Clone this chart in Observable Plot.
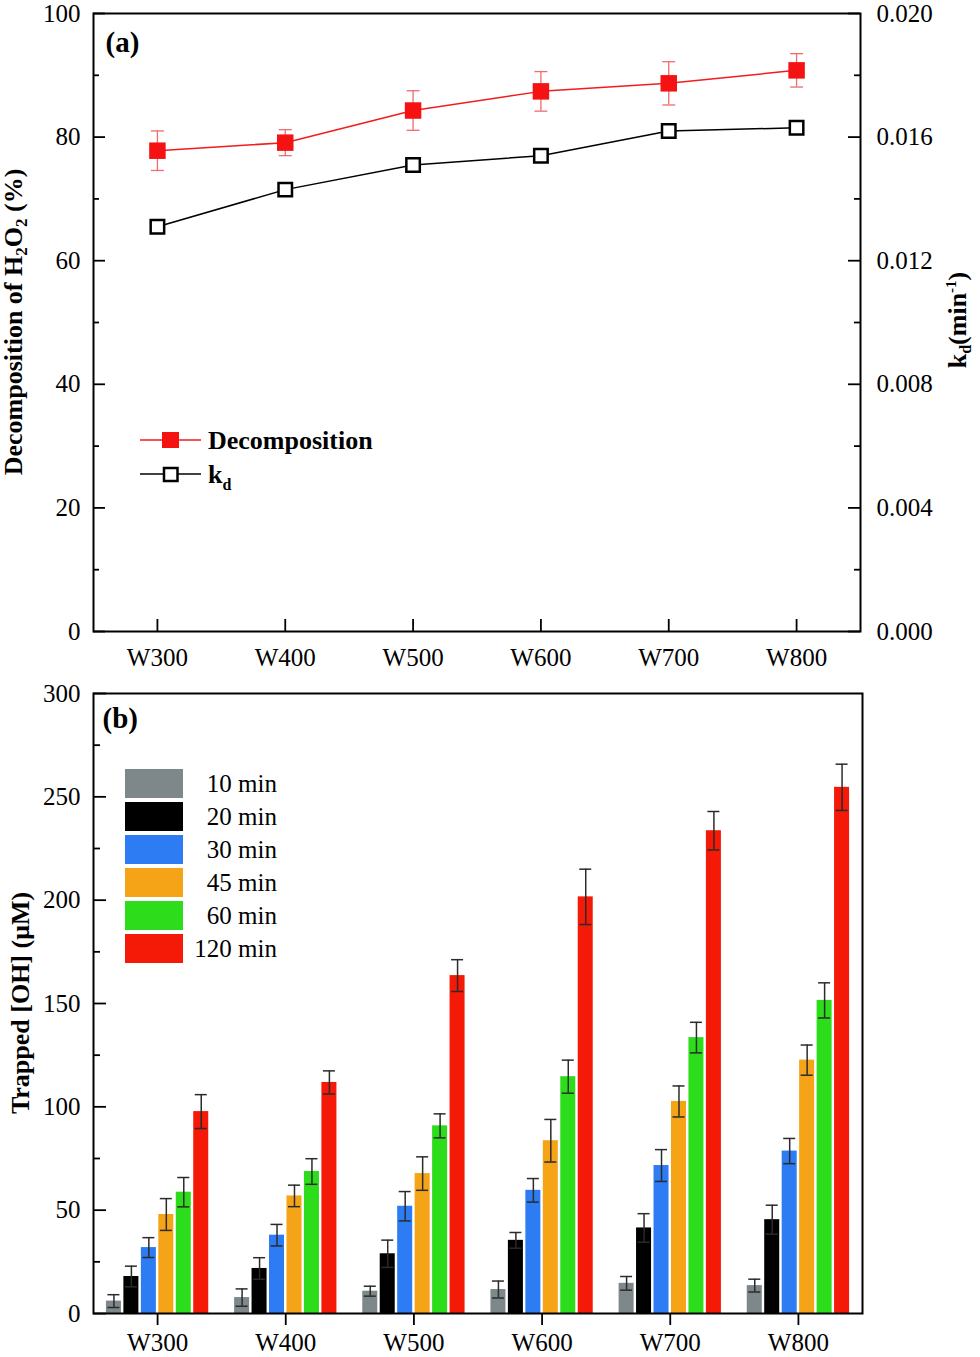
<!DOCTYPE html>
<html>
<head>
<meta charset="utf-8">
<script src="https://cdn.jsdelivr.net/npm/d3@7"></script>
<script src="https://cdn.jsdelivr.net/npm/@observablehq/plot@0.6"></script>
<style>
  body { margin: 0; background: #fff; }
  #wrap { position: relative; width: 980px; height: 1357px; font-family: "Liberation Serif", "Times New Roman", serif; }
  #wrap svg { position: absolute; left: 0; }
  .leg { position: absolute; font-size: 25px; color: #000; }
  .sw { position: absolute; width: 58px; height: 29px; }
  .lt { position: absolute; width: 110px; text-align: right; line-height: 29px; }
</style>
</head>
<body>
<div id="wrap"></div>
<script>
// ---------- data ----------
const samples = ["W300", "W400", "W500", "W600", "W700", "W800"];
// panel (a)
const decomposition    = [77.8, 79.1, 84.3, 87.4, 88.7, 90.8];
const decompositionErr = [3.2, 2.1, 3.2, 3.2, 3.5, 2.7];
const kd               = [0.0131, 0.0143, 0.0151, 0.0154, 0.0162, 0.0163];
const leftTicksA  = [0, 20, 40, 60, 80, 100];
const minorTicksA = [10, 30, 50, 70, 90];
const rightTicksA = [0.000, 0.004, 0.008, 0.012, 0.016, 0.020];
// panel (b)
const times      = ["10 min", "20 min", "30 min", "45 min", "60 min", "120 min"];
const timeColors = ["#7e888a", "#000000", "#2e7cf3", "#f5a418", "#2ddd1c", "#f51a08"];
const oh10  = [6.0, 7.7, 10.8, 11.6, 14.6, 13.5];
const oh20  = [17.9, 21.8, 28.9, 35.4, 41.4, 45.4];
const oh30  = [31.9, 37.9, 51.9, 59.6, 71.6, 78.6];
const oh45  = [47.9, 56.9, 67.7, 83.6, 102.6, 122.6];
const oh60  = [58.7, 68.7, 90.8, 114.6, 133.5, 151.5];
const oh120 = [97.7, 111.8, 163.5, 201.6, 233.6, 254.6];
const err10  = [3.1, 4.2, 2.4, 4.1, 3.3, 3.1];
const err20  = [5.0, 5.2, 6.6, 3.8, 6.9, 7.0];
const err30  = [4.8, 5.2, 7.1, 5.7, 7.7, 6.1];
const err45  = [7.7, 5.2, 8.1, 10.3, 7.5, 7.3];
const err60  = [7.1, 6.2, 5.8, 8.0, 7.4, 8.5];
const err120 = [8.2, 5.6, 7.7, 13.4, 9.3, 11.2];
const ticksB      = [0, 50, 100, 150, 200, 250, 300];
const minorTicksB = [25, 75, 125, 175, 225, 275];

// ---------- derived tables ----------
const kdFactor = leftTicksA[leftTicksA.length - 1] / rightTicksA[rightTicksA.length - 1];
const dataA = samples.map((s, i) => ({sample: s, dec: decomposition[i], err: decompositionErr[i], kd: kd[i]}));
const ohValues = [oh10, oh20, oh30, oh45, oh60, oh120];
const ohErrors = [err10, err20, err30, err45, err60, err120];
const dataB = samples.flatMap((s, i) => times.map((t, j) => ({sample: s, time: t, value: ohValues[j][i], err: ohErrors[j][i]})));

const FONT = '"Liberation Serif", "Times New Roman", serif';
const W = 980;
const red = "#f41212", redLine = "#f21c1c", redErr = "#f06a6e";
const capSymbol = {draw(ctx, size) { const w = Math.sqrt(size) / 2; ctx.moveTo(-w, 0); ctx.lineTo(w, 0); }};

const wrap = document.getElementById("wrap");

// ---------- panel (a) ----------
const mA = {top: 13, right: 120, bottom: 49, left: 93};
const HA = 680;
const innerWA = W - mA.left - mA.right;
const plotA = Plot.plot({
  width: W, height: HA,
  marginTop: mA.top, marginRight: mA.right, marginBottom: mA.bottom, marginLeft: mA.left,
  style: {fontFamily: FONT, fontSize: "25px", color: "#000", background: "transparent", overflow: "visible"},
  x: {type: "point", domain: samples, padding: 0.5, round: false, label: null},
  y: {domain: [0, 100], label: null},
  marks: [
    Plot.axisX({tickSize: 0, tickPadding: 17, label: null}),
    Plot.tickX(samples, {x: d => d, insetTop: HA - mA.top - mA.bottom - 12, stroke: "#000", strokeWidth: 1.8}),
    Plot.axisY({anchor: "left", ticks: leftTicksA, tickSize: 0, tickPadding: 13, label: null}),
    Plot.axisY({anchor: "right", ticks: rightTicksA.map(t => t * kdFactor), tickFormat: d => (d / kdFactor).toFixed(3),
                tickSize: 0, tickPadding: 16, label: null}),
    Plot.tickY(leftTicksA, {y: d => d, insetRight: innerWA - 12, stroke: "#000", strokeWidth: 1.8}),
    Plot.tickY(minorTicksA, {y: d => d, insetRight: innerWA - 6, stroke: "#000", strokeWidth: 1.8}),
    Plot.tickY(leftTicksA, {y: d => d, insetLeft: innerWA - 12, stroke: "#000", strokeWidth: 1.8}),
    Plot.tickY(minorTicksA, {y: d => d, insetLeft: innerWA - 6, stroke: "#000", strokeWidth: 1.8}),
    Plot.frame({stroke: "#000", strokeWidth: 2}),
    Plot.line(dataA, {x: "sample", y: d => d.kd * kdFactor, stroke: "#000", strokeWidth: 1.5}),
    Plot.line(dataA, {x: "sample", y: "dec", stroke: redLine, strokeWidth: 1.5}),
    Plot.ruleX(dataA, {x: "sample", y1: d => d.dec - d.err, y2: d => d.dec + d.err, stroke: redErr, strokeWidth: 1.3}),
    Plot.dot(dataA, {x: "sample", y: d => d.dec + d.err, symbol: capSymbol, r: 7.3, fill: "none", stroke: redErr, strokeWidth: 1.3}),
    Plot.dot(dataA, {x: "sample", y: d => d.dec - d.err, symbol: capSymbol, r: 7.3, fill: "none", stroke: redErr, strokeWidth: 1.3}),
    Plot.dot(dataA, {x: "sample", y: "dec", symbol: "square", r: 9.3, fill: red, stroke: "none"}),
    Plot.dot(dataA, {x: "sample", y: d => d.kd * kdFactor, symbol: "square", r: 7.6, fill: "#fff", stroke: "#000", strokeWidth: 2.5}),
    Plot.text(["(a)"], {frameAnchor: "top-left", dx: 12, dy: 29, text: d => d, fontWeight: "bold", fontSize: 29, textAnchor: "start", lineAnchor: "middle"})
  ]
});
plotA.style.top = "0px";
wrap.appendChild(plotA);
{
  const s = d3.select(plotA);
  const t1 = s.append("text").attr("transform", "translate(22,322) rotate(-90)").attr("text-anchor", "middle")
    .attr("font-weight", "bold").attr("font-size", 26).attr("fill", "#000").style("white-space", "pre");
  t1.append("tspan").text("Decomposition of H");
  t1.append("tspan").attr("font-size", 17).attr("dy", 5).text("2");
  t1.append("tspan").attr("dy", -5).text("O");
  t1.append("tspan").attr("font-size", 17).attr("dy", 5).text("2");
  t1.append("tspan").attr("dy", -5).text(" (%)");
  const t2 = s.append("text").attr("transform", "translate(966,320) rotate(-90)").attr("text-anchor", "middle")
    .attr("font-weight", "bold").attr("font-size", 26).attr("fill", "#000");
  t2.append("tspan").text("k");
  t2.append("tspan").attr("font-size", 16).attr("dy", 5).text("d");
  t2.append("tspan").attr("dy", -5).text("(min");
  t2.append("tspan").attr("font-size", 15).attr("dy", -10).text("-1");
  t2.append("tspan").attr("dy", 10).text(")");
  // legend
  const g = s.append("g").attr("text-anchor", "start");
  g.append("line").attr("x1", 140).attr("x2", 201).attr("y1", 440).attr("y2", 440).attr("stroke", redLine).attr("stroke-width", 1.5);
  g.append("rect").attr("x", 162).attr("y", 432).attr("width", 17).attr("height", 16).attr("fill", red);
  g.append("text").attr("x", 208).attr("y", 449).attr("text-anchor", "start").attr("font-weight", "bold").attr("font-size", 26).attr("fill", "#000").text("Decomposition");
  g.append("line").attr("x1", 140).attr("x2", 201).attr("y1", 474).attr("y2", 474).attr("stroke", "#000").attr("stroke-width", 1.5);
  g.append("rect").attr("x", 164).attr("y", 468).attr("width", 13.5).attr("height", 13).attr("fill", "#fff").attr("stroke", "#000").attr("stroke-width", 2.5);
  const k = g.append("text").attr("x", 208).attr("y", 483).attr("text-anchor", "start").attr("font-weight", "bold").attr("font-size", 26).attr("fill", "#000");
  k.append("tspan").text("k");
  k.append("tspan").attr("font-size", 16).attr("dy", 7).text("d");
}

// ---------- panel (b) ----------
const topB = 680;
const HB = 677;
const mB = {top: 13, right: 118, bottom: 44, left: 93};
const innerWB = W - mB.left - mB.right;
const plotB = Plot.plot({
  width: W, height: HB,
  marginTop: mB.top, marginRight: mB.right, marginBottom: mB.bottom, marginLeft: mB.left,
  style: {fontFamily: FONT, fontSize: "25px", color: "#000", background: "transparent", overflow: "visible"},
  fx: {domain: samples, padding: 0, round: false, label: null},
  x: {domain: times, paddingInner: 0.14, paddingOuter: 0.74, round: false, axis: null, label: null},
  y: {domain: [0, 300], axis: null, label: null},
  color: {domain: times, range: timeColors},
  marks: [
    Plot.barY(dataB, {fx: "sample", x: "time", y: "value", fill: "time"}),
    Plot.ruleX(dataB, {fx: "sample", x: "time", y1: d => d.value - d.err, y2: d => d.value + d.err, stroke: "#2b2b2b", strokeWidth: 1.5}),
    Plot.tickY(dataB, {fx: "sample", x: "time", y: d => d.value + d.err, insetLeft: 1.5, insetRight: 1.5, stroke: "#2b2b2b", strokeWidth: 1.5}),
    Plot.tickY(dataB, {fx: "sample", x: "time", y: d => d.value - d.err, insetLeft: 1.5, insetRight: 1.5, stroke: "#2b2b2b", strokeWidth: 1.5}),
    Plot.axisFx({anchor: "bottom", tickSize: 12, tickPadding: 8, label: null, strokeWidth: 1.8})
  ]
});
plotB.style.top = topB + "px";
wrap.appendChild(plotB);

const overlayB = Plot.plot({
  width: W, height: HB,
  marginTop: mB.top, marginRight: mB.right, marginBottom: mB.bottom, marginLeft: mB.left,
  style: {fontFamily: FONT, fontSize: "25px", color: "#000", background: "transparent", overflow: "visible"},
  y: {domain: [0, 300], label: null},
  marks: [
    Plot.axisY({anchor: "left", ticks: ticksB, tickSize: 0, tickPadding: 13, label: null}),
    Plot.tickY(ticksB, {y: d => d, insetRight: innerWB - 13, stroke: "#000", strokeWidth: 1.8}),
    Plot.tickY(minorTicksB, {y: d => d, insetRight: innerWB - 7, stroke: "#000", strokeWidth: 1.8}),
    Plot.frame({stroke: "#000", strokeWidth: 2}),
    Plot.text(["(b)"], {frameAnchor: "top-left", dx: 9, dy: 25, text: d => d, fontWeight: "bold", fontSize: 29, textAnchor: "start", lineAnchor: "middle"})
  ]
});
overlayB.style.top = topB + "px";
overlayB.style.pointerEvents = "none";
wrap.appendChild(overlayB);
{
  const s = d3.select(overlayB);
  s.append("text").attr("transform", "translate(29,323) rotate(-90)").attr("text-anchor", "middle")
    .attr("font-weight", "bold").attr("font-size", 26).attr("fill", "#000").text("Trapped [OH] (μM)");
}
// legend (b)
times.forEach((t, i) => {
  const y = 769 + i * 33;
  const sw = document.createElement("div");
  sw.className = "sw";
  sw.style.left = "125px"; sw.style.top = y + "px"; sw.style.background = timeColors[i];
  wrap.appendChild(sw);
  const lt = document.createElement("div");
  lt.className = "leg lt";
  lt.style.left = "167px"; lt.style.top = y + "px";
  lt.textContent = t;
  wrap.appendChild(lt);
});
</script>
</body>
</html>
